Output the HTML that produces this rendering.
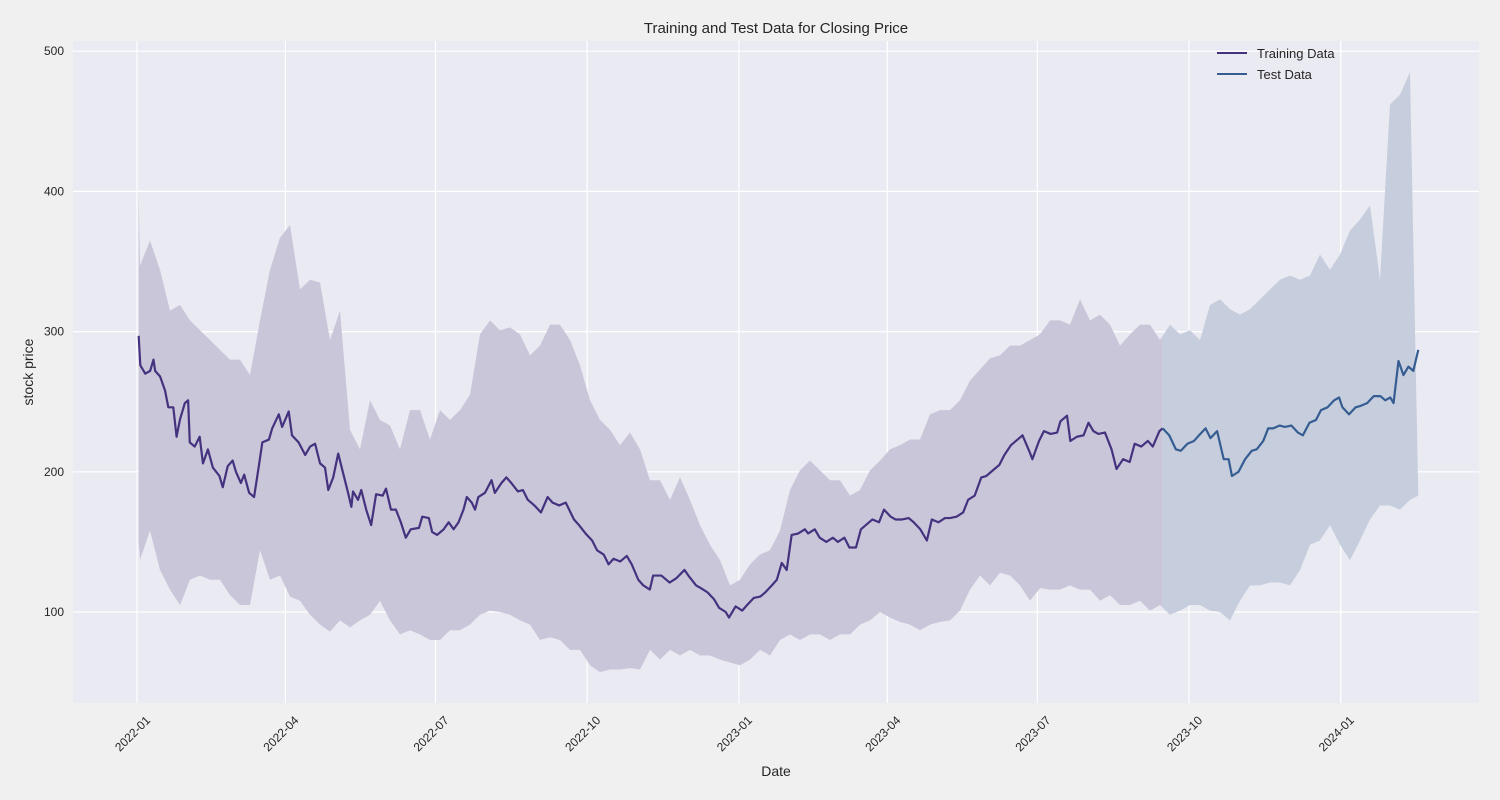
<!DOCTYPE html>
<html><head><meta charset="utf-8"><style>
body{margin:0;background:#f0f0f0;}
svg{display:block;font-family:"Liberation Sans",sans-serif;}
</style></head><body>
<svg id="chart" width="1500" height="800">
<rect x="0" y="0" width="1500" height="800" fill="#f0f0f0"/>
<rect x="73" y="41" width="1406" height="662" fill="#eaeaf2"/>
<g id="grid"></g>
<g id="bands"></g>
<g id="lines"></g>
<g id="yt"></g>
<g id="xt"></g>
<text x="776" y="33" text-anchor="middle" font-size="15" fill="#262626">Training and Test Data for Closing Price</text>
<text x="776" y="776" text-anchor="middle" font-size="14" fill="#262626">Date</text>
<text transform="translate(33,372) rotate(-90)" text-anchor="middle" font-size="14" fill="#262626">stock price</text>
<g>
<line x1="1217" y1="53" x2="1247" y2="53" stroke="#45327e" stroke-width="2"/>
<text x="1257" y="58" font-size="13" fill="#262626">Training Data</text>
<line x1="1217" y1="74" x2="1247" y2="74" stroke="#355d92" stroke-width="2"/>
<text x="1257" y="79" font-size="13" fill="#262626">Test Data</text>
</g>
</svg>
<script>
const yTicks=[100,200,300,400,500];
const xTickDays=[0,90,181,273,365,455,546,638,730];
const xTickLabels=["2022-01","2022-04","2022-07","2022-10","2023-01","2023-04","2023-07","2023-10","2024-01"];
const trainDays=[1,2,5,8,10,11,14,17,19,22,24,26,29,31,32,35,38,40,43,46,50,52,55,58,60,63,65,68,71,74,76,80,82,86,88,92,94,98,102,105,108,111,114,116,119,122,125,128,130,131,134,136,139,142,145,149,151,154,157,160,163,166,171,173,177,179,182,186,189,192,195,198,200,203,205,207,211,215,217,221,224,227,231,234,237,241,245,249,252,256,260,265,268,272,276,279,283,286,289,293,297,300,304,307,311,313,318,323,327,332,335,339,342,346,350,353,357,359,363,367,370,374,378,381,385,388,391,394,397,401,405,407,411,414,418,422,425,429,432,436,439,442,446,450,453,457,460,464,468,471,475,479,482,486,490,493,497,501,504,508,512,515,519,523,526,530,533,537,541,543,547,550,554,558,560,564,566,570,574,577,580,583,587,591,594,598,602,605,609,613,616,620,622];
const trainValues=[297,276,270,272,280,272,268,258,246,246,225,237,249,251,221,218,225,206,216,203,197,189,204,208,200,192,198,185,182,205,221,223,231,241,232,243,226,221,212,218,220,206,203,187,196,213,199,185,175,186,180,187,173,162,184,183,188,173,173,164,153,159,160,168,167,157,155,159,164,159,164,173,182,178,173,182,185,194,185,192,196,192,186,187,180,176,171,182,178,176,178,166,162,156,151,144,141,134,138,136,140,134,123,119,116,126,126,121,124,130,125,119,117,114,109,103,100,96,104,101,105,110,111,114,119,123,135,130,155,156,159,156,159,153,150,153,150,153,146,146,159,162,166,164,173,168,166,166,167,164,159,151,166,164,167,167,168,171,180,183,196,197,201,205,212,219,222,226,215,209,222,229,227,228,236,240,222,225,226,235,229,227,228,216,202,209,207,220,218,222,218,229,231];
const testDays=[622,626,630,633,637,641,644,648,651,655,659,662,664,668,672,676,679,683,686,689,693,696,700,704,707,711,715,718,722,726,729,731,735,739,742,746,750,754,757,760,762,765,768,771,774,777];
const testValues=[231,226,216,215,220,222,226,231,224,229,209,209,197,200,209,215,216,222,231,231,233,232,233,228,226,235,237,244,246,251,253,246,241,246,247,249,254,254,251,253,249,279,269,275,272,287];
const bandUpper=[400,347,365,344,315,319,308,301,294,287,280,280,269,308,344,367,376,330,337,335,294,315,230,216,251,237,233,216,244,244,223,244,237,244,255,298,308,301,303,298,283,290,305,305,294,276,251,237,230,219,228,216,194,194,180,196,180,162,148,137,119,123,134,141,144,158,187,201,208,201,194,194,183,187,201,208,216,219,223,223,241,244,244,251,265,273,281,283,290,290,294,298,308,308,305,323,308,312,305,290,298,305,305,294,305,298,301,294,319,323,316,312,316,323,330,337,340,337,340,355,344,355,372,380,390,337,462,469,485];
const bandLower=[151,137,158,130,116,105,123,126,123,123,112,105,105,144,123,126,111,108,98,91,86,94,89,94,98,108,94,84,87,84,80,80,87,87,91,98,101,100,98,94,91,80,82,80,73,73,62,57,59,59,60,59,73,66,73,69,73,69,69,66,64,62,66,73,69,80,84,80,84,84,80,84,84,91,94,100,96,93,91,87,91,93,94,101,116,126,119,128,126,119,108,117,116,116,119,116,116,108,112,105,105,108,101,105,98,101,105,105,101,100,94,108,119,119,121,121,119,130,148,151,162,148,137,151,166,176,176,173,180,183];
const X0=137,PXD=1.649,Y0=612,PXV=1.402;
function xs(d){return X0+d*PXD;}
function ys(v){return Y0-(v-100)*PXV;}
function bandDay(i){return i===0?1:Math.min(777,(3+10*(i-1))/1.649);}
const NS='http://www.w3.org/2000/svg';
function mk(tag,attrs,parent){const e=document.createElementNS(NS,tag);for(const k in attrs)e.setAttribute(k,attrs[k]);parent.appendChild(e);return e;}
const grid=document.getElementById('grid');
yTicks.forEach(v=>{
 const l=mk('line',{x1:73,x2:1479,y1:ys(v),y2:ys(v),stroke:'#fff','stroke-width':1.2},grid);
 
 
 const t=mk('text',{x:64,y:ys(v)+4,'text-anchor':'end','font-size':12,fill:'#262626'},document.getElementById('yt'));
 t.textContent=v;
 
 
});
xTickDays.forEach((d,i)=>{
 const l=mk('line',{x1:xs(d),x2:xs(d),y1:41,y2:703,stroke:'#fff','stroke-width':1.2},grid);
 
 
 const t=mk('text',{transform:`translate(${xs(d)+14},${721}) rotate(-45)`,'text-anchor':'end','font-size':12,fill:'#262626'},document.getElementById('xt'));
 t.textContent=xTickLabels[i];
 
 
});
const bands=document.getElementById('bands');
const up=bandUpper.map((v,i)=>[xs(bandDay(i)),ys(v)]);
const lo=bandLower.map((v,i)=>[xs(bandDay(i)),ys(v)]);
const poly=up.concat(lo.slice().reverse()).map(p=>p.join(',')).join(' ');
const split=xs(trainDays[trainDays.length-1]);
const defs=mk('defs',{},bands);
const c1=mk('clipPath',{id:'cl'},defs);mk('rect',{x:0,y:0,width:split,height:800},c1);
const c2=mk('clipPath',{id:'cr'},defs);mk('rect',{x:split,y:0,width:1500-split,height:800},c2);
const p1=mk('polygon',{points:poly,fill:'#c9c6da','clip-path':'url(#cl)'},bands);


const p2=mk('polygon',{points:poly,fill:'#c6cddc','clip-path':'url(#cr)'},bands);


const lines=document.getElementById('lines');
const l1=mk('polyline',{points:trainDays.map((d,i)=>xs(d)+','+ys(trainValues[i])).join(' '),fill:'none',stroke:'#45327e','stroke-width':2.2,'stroke-linejoin':'round'},lines);


const l2=mk('polyline',{points:testDays.map((d,i)=>xs(d)+','+ys(testValues[i])).join(' '),fill:'none',stroke:'#355d92','stroke-width':2.2,'stroke-linejoin':'round'},lines);


</script>
</body></html>
